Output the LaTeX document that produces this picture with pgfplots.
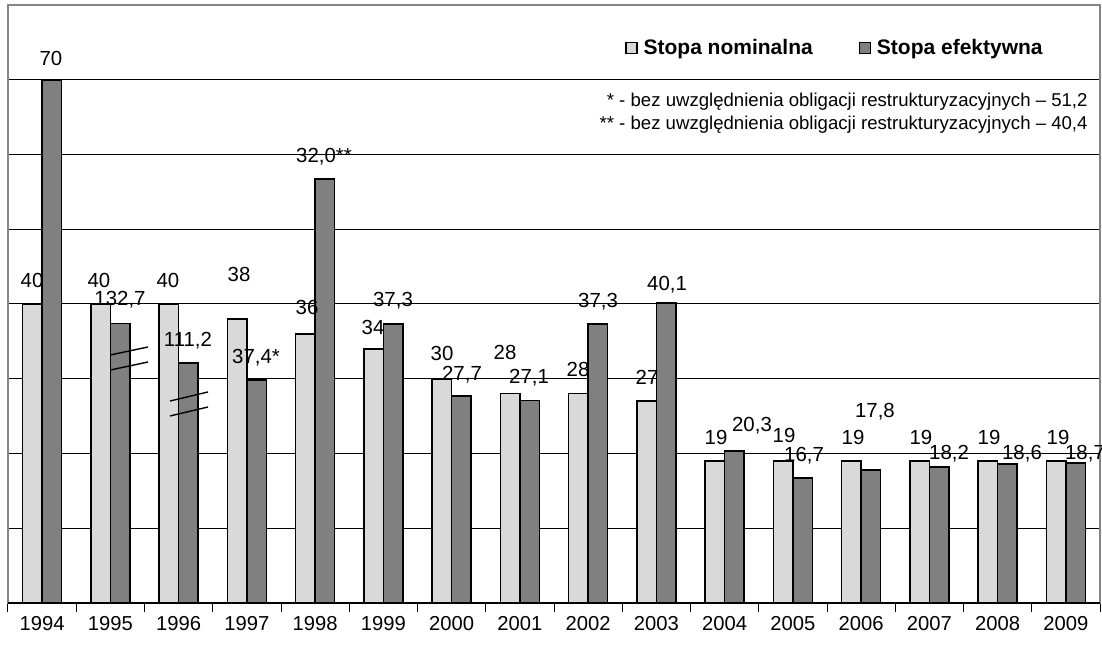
\documentclass[border=0pt]{standalone}
\usepackage{pgfplots}
\pgfplotsset{compat=1.18}
\usepackage{fontspec}
\setmainfont{Liberation Sans}
\definecolor{nom}{RGB}{217,217,217}
\definecolor{efe}{RGB}{128,128,128}
\definecolor{frame}{RGB}{134,134,134}
\begin{document}
\begin{tikzpicture}
\begin{axis}[
  scale only axis,
  width=546pt, height=299pt,
  xmin=-0.5, xmax=15.5, ymin=0, ymax=80,
  ybar=0pt, bar width=9.75pt,
  axis line style={draw=frame, line width=0.6pt},
  xtick={0,...,15},
  xticklabels={1994,1995,1996,1997,1998,1999,2000,2001,2002,2003,2004,2005,2006,2007,2008,2009},
  minor xtick={-0.5,0.5,...,15.5},
  xtick pos=bottom,
  tick align=outside,
  major tick length=0pt,
  minor tick length=4.5pt,
  minor x tick style={black, line width=0.5pt},
  xticklabel style={font=\fontsize{10.1}{12}\selectfont, anchor=center, yshift=-10.5pt},
  ytick={10,20,...,70},
  yticklabels={},
  ymajorgrids,
  grid style={black, line width=0.5pt},
  clip=false,
  legend columns=2,
  legend style={draw=none, fill=none, at={(axis cs:8.54,74.25)}, anchor=west,
    inner sep=0pt, nodes={inner sep=0pt},
    font=\bfseries\fontsize{10.5}{12}\selectfont,
    /tikz/every odd column/.append style={column sep=3pt},
    /tikz/every even column/.append style={column sep=23pt}},
  legend image code/.code={\draw[#1, line width=0.6pt] (0pt,-2.75pt) rectangle (5.5pt,2.75pt);},
]
\addplot[draw=black, line width=0.8pt, fill=nom] coordinates {
 (0,40) (1,40) (2,40) (3,38) (4,36) (5,34) (6,30) (7,28) (8,28) (9,27)
 (10,19) (11,19) (12,19) (13,19) (14,19) (15,19)};
\addplot[draw=black, line width=0.8pt, fill=efe] coordinates {
 (0,70) (1,37.4) (2,32.1) (3,29.8) (4,56.7) (5,37.3) (6,27.7) (7,27.1) (8,37.3) (9,40.1)
 (10,20.3) (11,16.7) (12,17.8) (13,18.2) (14,18.6) (15,18.7)};
\legend{Stopa nominalna, Stopa efektywna}
\draw[black, line width=0.6pt] (rel axis cs:0,0) -- (rel axis cs:1,0);
% break marks
\draw[black, line width=0.7pt] (axis cs:1.0,33.18) -- (axis cs:1.551,34.25);
\draw[black, line width=0.7pt] (axis cs:1.0,31.17) -- (axis cs:1.551,32.24);
\draw[black, line width=0.7pt] (axis cs:1.874,27.02) -- (axis cs:2.430,28.23);
\draw[black, line width=0.7pt] (axis cs:1.874,25.02) -- (axis cs:2.430,26.22);
% value labels
\begin{scope}[every node/.style={font=\fontsize{10.2}{12}\selectfont, inner sep=0pt}]
\node at (axis cs:-0.148,43.08) {40};
\node at (axis cs:0.130,72.91) {70};
\node at (axis cs:0.833,43.08) {40};
\node at (axis cs:1.141,40.54) {132,7};
\node at (axis cs:1.844,43.08) {40};
\node at (axis cs:2.137,35.05) {111,2};
\node at (axis cs:2.885,44.01) {38};
\node at (axis cs:3.134,32.78) {37,4*};
\node at (axis cs:3.881,39.60) {36};
\node at (axis cs:4.130,59.67) {32,0**};
\node at (axis cs:4.848,36.92) {34};
\node at (axis cs:5.141,40.40) {37,3};
\node at (axis cs:5.859,33.35) {30};
\node at (axis cs:6.152,30.55) {27,7};
\node at (axis cs:6.782,33.58) {28};
\node at (axis cs:7.134,30.10) {27,1};
\node at (axis cs:7.852,31.30) {28};
\node at (axis cs:8.145,40.27) {37,3};
\node at (axis cs:8.863,30.23) {27};
\node at (axis cs:9.156,42.54) {40,1};
\node at (axis cs:9.874,22.21) {19};
\node at (axis cs:10.401,23.68) {20,3};
\node at (axis cs:10.870,22.45) {19};
\node at (axis cs:11.163,19.75) {16,7};
\node at (axis cs:11.881,22.21) {19};
\node at (axis cs:12.203,25.55) {17,8};
\node at (axis cs:12.877,22.21) {19};
\node at (axis cs:13.288,19.93) {18,2};
\node at (axis cs:13.874,22.21) {19};
\node at (axis cs:14.357,19.93) {18,6};
\node at (axis cs:14.885,22.21) {19};
\node at (axis cs:15.280,19.93) {18,7};
\end{scope}
\begin{scope}[every node/.style={font=\fontsize{9.3}{11}\selectfont, inner sep=0pt, anchor=east}]
\node at (axis cs:15.324,67.0) {* - bez uwzględnienia obligacji restrukturyzacyjnych – 51,2};
\node at (axis cs:15.324,63.95) {** - bez uwzględnienia obligacji restrukturyzacyjnych – 40,4};
\end{scope}
\coordinate (bbA) at ([shift={(-4pt,-22pt)}]rel axis cs:0,0);
\coordinate (bbB) at ([shift={(1pt,2.5pt)}]rel axis cs:1,1);
\end{axis}
\pgfresetboundingbox
\path[use as bounding box] (bbA) rectangle (bbB);
\end{tikzpicture}
\end{document}
